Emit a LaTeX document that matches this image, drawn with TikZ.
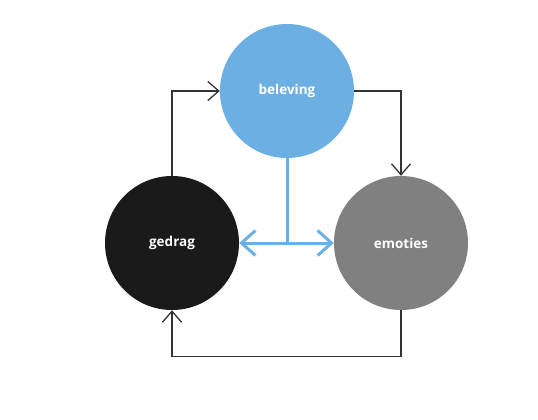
\documentclass[tikz,border=0pt]{standalone}
\usepackage{fontspec}
\setmainfont{Open Sans}
\usetikzlibrary{arrows.meta}
\definecolor{cblue}{HTML}{6CB0E3}
\definecolor{cdark}{HTML}{1A1A1A}
\definecolor{cgray}{HTML}{808080}
\definecolor{cline}{HTML}{333333}
\begin{document}
\begin{tikzpicture}[x=1pt,y=-1pt,
  circ/.style={circle,minimum size=134pt,inner sep=0pt,text=white,font=\bfseries\fontsize{13.5}{16}\selectfont},
  flow/.style={draw=cline,line width=1.3pt,-{Straight Barb[length=11pt,width=19pt]}},
  bidir/.style={draw=cblue,line width=3pt,{Straight Barb[length=14pt,width=25pt]}-{Straight Barb[length=14pt,width=25pt]}}]
\useasboundingbox (0,0) rectangle (538,420);
\node[circ,fill=cblue] (bel) at (287,91) {beleving};
\node[circ,fill=cdark] (ged) at (172,243) {gedrag};
\node[circ,fill=cgray] (emo) at (401,243) {emoties};
\draw[flow] (ged.north) |- (bel.west);
\draw[flow] (bel.east) -| (emo.north);
\draw[flow] (emo.south) -- ++(0,46) -| (ged.south);
\coordinate (mid) at (287,242);
\draw[draw=cblue,line width=3pt] (bel.south) -- (mid);
\draw[bidir] (ged.east) -- (emo.west);
\end{tikzpicture}
\end{document}
